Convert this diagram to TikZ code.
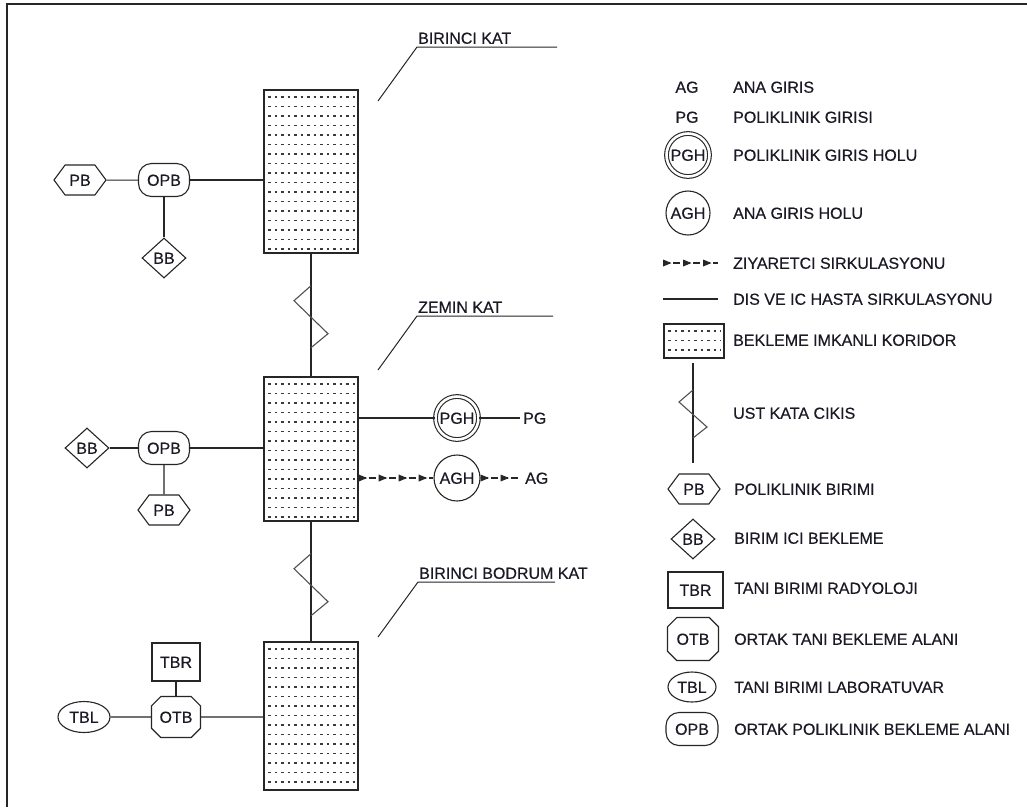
\documentclass[tikz,border=0pt]{standalone}
\usepackage{fontspec}
\setmainfont{Liberation Sans}[FakeBold=0.4]
\usetikzlibrary{shapes.geometric,shapes.misc,shapes.symbols,decorations.markings,calc}
\definecolor{ink}{HTML}{1A1A26}
\definecolor{edge}{HTML}{262626}
\definecolor{dotc}{HTML}{3A3A3A}
\tikzset{
  lbl/.style={font=\fontsize{16}{19}\selectfont, text=ink, inner sep=0pt, text height=11.5pt, text depth=0pt},
  conn/.style={draw=edge, line width=1.3pt},
  thin/.style={draw=edge, line width=1pt},
  zig/.style={draw=edge!80, line width=1.1pt},
  shp/.style={lbl, draw=edge, line width=1.1pt},
  dotrow/.style={draw=dotc, line width=1.3pt, dash pattern=on 2.5pt off 4pt},
  corridor/.style={draw=edge, line width=1.4pt, inner sep=0pt,
    path picture={\foreach \k in {1,...,30}{\draw[dotrow] ([xshift=4pt,yshift={2.5pt-9.5pt*\k}]path picture bounding box.north west) -- ([xshift=-3pt,yshift={2.5pt-9.5pt*\k}]path picture bounding box.north east);}}},
  opbshape/.style={shp, rectangle, rounded corners=13pt, minimum width=51pt, minimum height=33pt},
  pbshape/.style={shp, signal, signal to=west and east, signal pointer angle=107, minimum width=52pt, minimum height=30pt},
  bbshape/.style={shp, diamond, aspect=1.1, minimum width=44pt, minimum height=40pt},
  tbrshape/.style={shp, rectangle, minimum width=48pt, minimum height=38pt},
  otbshape/.style={shp, chamfered rectangle, chamfered rectangle xsep=12pt, minimum width=49pt, minimum height=41pt},
  tblshape/.style={shp, ellipse, minimum width=52pt, minimum height=31pt},
  pghshape/.style={shp, circle, double, double distance=2.6pt, minimum size=43pt},
  aghshape/.style={shp, circle, minimum size=46pt},
  visitor/.style={draw=edge, line width=1.2pt, dash pattern=on 7pt off 3pt,
    postaction={decorate, decoration={markings, mark=between positions 0 and 1 step 20pt with {\fill[edge] (0pt,-3.5pt) -- (8.5pt,0pt) -- (0pt,3.5pt) -- cycle;}}}},
  legtext/.style={lbl, anchor=west},
}
\begin{document}
\begin{tikzpicture}[x=1pt,y=-1pt]
\useasboundingbox (0,0) rectangle (1027,807);
\fill[white] (0,0) rectangle (1027,807);
% frame
\draw[edge, line width=1.2pt] (7,807) -- (7,4) -- (1027,4);

% corridors
\node[corridor, minimum width=94pt, minimum height=163pt] (c1) at (311,171.5) {};
\node[corridor, minimum width=94pt, minimum height=144pt] (c2) at (311,449) {};
\node[corridor, minimum width=94pt, minimum height=148pt] (c3) at (311,716) {};

% vertical links with zigzags
\draw[conn] (c1.south) -- (c2.north);
\draw[zig] ($(c1.south)+(0,32)$) -- ++(-17,15) -- ++(34,33) -- ++(-17,14);
\draw[conn] (c2.south) -- (c3.north);
\draw[zig] ($(c2.south)+(0,32)$) -- ++(-17,15) -- ++(34,33) -- ++(-17,14);

% floor labels
\node[legtext] (l1) at (418,38) {BIRINCI KAT};
\coordinate (l1a) at (557,47); \coordinate (l1b) at (417,47); \coordinate (l1c) at (378,101);
\draw[thin] (l1a) -- (l1b) -- (l1c);
\node[legtext] (l2) at (418,307) {ZEMIN KAT};
\coordinate (l2a) at (553,316); \coordinate (l2b) at (417,316); \coordinate (l2c) at (378,370);
\draw[thin] (l2a) -- (l2b) -- (l2c);
\node[legtext] (l3) at (419,573) {BIRINCI BODRUM KAT};
\coordinate (l3a) at (555,582); \coordinate (l3b) at (418,582); \coordinate (l3c) at (378,637);
\draw[thin] (l3a) -- (l3b) -- (l3c);

% top floor
\node[opbshape] (opb1) at (164,180) {OPB};
\node[pbshape] (pb1) at (80,180) {PB};
\node[bbshape] (bb1) at (164,258) {BB};
\draw[thin] (pb1) -- (opb1);
\draw[conn] (opb1) -- (opb1 -| c1.west);
\draw[conn] (opb1) -- (bb1);

% ground floor
\node[opbshape] (opb2) at (164,448) {OPB};
\node[bbshape] (bb2) at (87,448) {BB};
\node[pbshape] (pb2) at (164,510) {PB};
\draw[conn] (bb2) -- (opb2);
\draw[conn] (opb2) -- (opb2 -| c2.west);
\draw[conn] (opb2) -- (pb2);

\node[pghshape] (pgh) at (457,418) {PGH};
\node[aghshape] (agh) at (457,478) {AGH};
\node[lbl, anchor=west] (pg) at (523,418) {PG};
\node[lbl, anchor=west] (ag) at (525,478) {AG};
\draw[conn] (pgh -| c2.east) -- (pgh);
\draw[conn] (pgh) -- ([xshift=-3pt]pg.west);
\draw[visitor] (agh -| c2.east) -- (agh);
\draw[visitor] (agh) -- ([xshift=-5pt]ag.west);

% basement
\node[otbshape] (otb) at (176,717) {OTB};
\node[tbrshape] (tbr) at (176,662) {TBR};
\node[tblshape] (tbl) at (84,717) {TBL};
\draw[conn] (tbl) -- (otb);
\draw[conn] (tbr) -- (otb);
\draw[conn] (otb) -- (otb -| c3.west);

% legend
\node[lbl] (kag) at (687,87) {AG};
\node[legtext] (tag) at (733,87) {ANA GIRIS};
\node[lbl] (kpg) at (687,117) {PG};
\node[legtext] (tpg) at (733,117) {POLIKLINIK GIRISI};
\node[pghshape] (kpgh) at (688,155) {PGH};
\node[legtext] (tpgh) at (733,155) {POLIKLINIK GIRIS HOLU};
\node[aghshape, minimum size=44pt] (kagh) at (688,213) {AGH};
\node[legtext] (tagh) at (733,213) {ANA GIRIS HOLU};
\coordinate (kv1) at (663,263); \coordinate (kv2) at (718,263);
\draw[visitor] (kv1) -- (kv2);
\node[legtext] (tv) at (733,263) {ZIYARETCI SIRKULASYONU};
\coordinate (ks1) at (663,299); \coordinate (ks2) at (718,299);
\draw[conn] (ks1) -- (ks2);
\node[legtext] (ts) at (733,299) {DIS VE IC HASTA SIRKULASYONU};
\node[corridor, minimum width=60pt, minimum height=34pt] (kcor) at (694,341) {};
\node[legtext] (tcor) at (733,340) {BEKLEME IMKANLI KORIDOR};
\coordinate (kz1) at (693,363); \coordinate (kz2) at (693,463);
\draw[conn] (kz1) -- (kz2);
\draw[zig] (693,390) -- (679,402) -- (707,427) -- (693,438);
\node[legtext] (tz) at (733,413) {UST KATA CIKIS};
\node[pbshape] (kpb) at (694,489) {PB};
\node[legtext] (tpb) at (734,489) {POLIKLINIK BIRIMI};
\node[bbshape] (kbb) at (693,539) {BB};
\node[legtext] (tbb) at (734,538) {BIRIM ICI BEKLEME};
\node[tbrshape, minimum width=55pt, minimum height=36pt] (ktbr) at (695.5,590) {TBR};
\node[legtext] (ttbr) at (734,588) {TANI BIRIMI RADYOLOJI};
\node[otbshape, minimum width=51pt, minimum height=43pt] (kotb) at (693,639) {OTB};
\node[legtext] (totb) at (734,639) {ORTAK TANI BEKLEME ALANI};
\node[tblshape, minimum width=48pt, minimum height=30pt] (ktbl) at (692,687) {TBL};
\node[legtext] (ttbl) at (734,687) {TANI BIRIMI LABORATUVAR};
\node[opbshape, minimum width=52pt] (kopb) at (692,729) {OPB};
\node[legtext] (topb) at (734,729) {ORTAK POLIKLINIK BEKLEME ALANI};
\end{tikzpicture}
\end{document}
